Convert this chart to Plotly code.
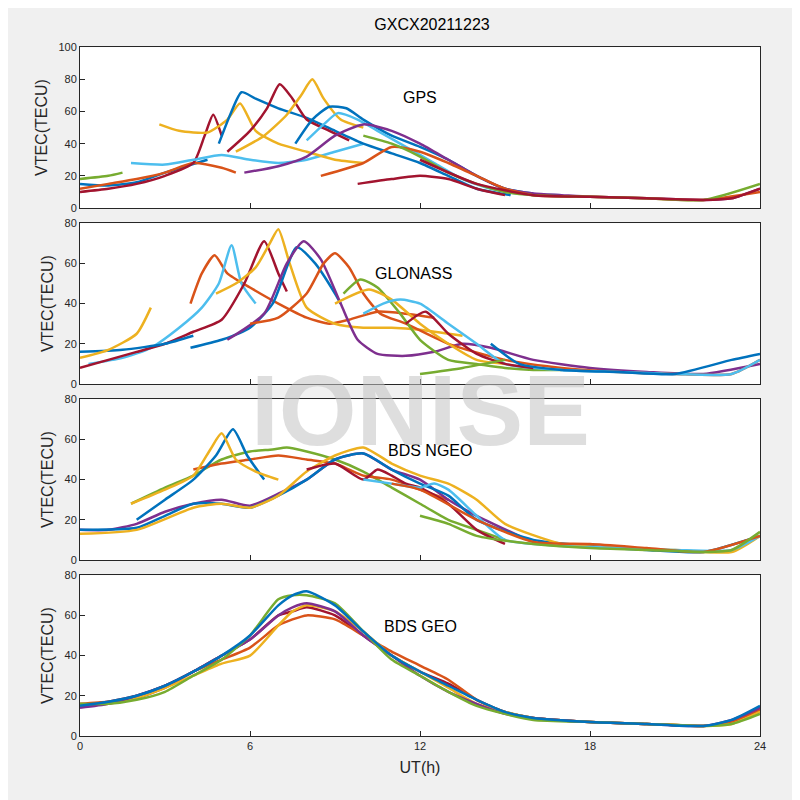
import plotly.graph_objects as go

C = ['#0072BD', '#D95319', '#EDB120', '#7E2F8E', '#77AC30', '#4DBEEE', '#A2142F']

# GPS arcs: (color, hours, vtec)
gps_arcs = [
    (0, [0, 1, 2, 3, 4.5], [15, 14, 16, 22, 30]),
    (1, [0, 1, 2, 3, 4, 5, 5.5], [12, 15, 18, 22, 28, 25, 22]),
    (4, [0, 1, 1.5], [18, 20, 22]),
    (6, [0, 1, 2, 3, 4, 4.4, 4.7, 5.0], [10, 12, 15, 20, 28, 45, 58, 45]),
    (5, [1.8, 3, 4, 5, 6, 7, 8, 9, 10], [28, 27, 30, 33, 30, 28, 30, 35, 40]),
    (2, [2.8, 3.5, 4.5, 5.2, 5.65, 6.2, 7, 8, 9, 10], [52, 48, 47, 55, 65, 48, 40, 35, 30, 28]),
    (0, [4.9, 5.3, 5.7, 6.2, 7, 8, 9, 10, 11, 12, 13, 14, 15.2], [40, 58, 72, 68, 62, 56, 48, 40, 34, 28, 20, 12, 8]),
    (6, [5.2, 6, 6.6, 7.05, 7.5, 8, 8.8, 9.5], [35, 48, 62, 77, 68, 55, 48, 42]),
    (2, [5.5, 6.5, 7.3, 7.8, 8.2, 8.6, 9.2, 10], [35, 45, 58, 70, 80, 68, 55, 50]),
    (0, [7.6, 8.2, 8.8, 9.4, 10, 11, 12, 13, 14, 15, 16], [40, 55, 63, 62, 55, 45, 38, 30, 20, 12, 9]),
    (5, [8, 8.6, 9.1, 9.8, 10.5, 11.5, 12.5, 13.5, 14.5, 15.5, 17], [42, 52, 59, 55, 48, 38, 28, 18, 12, 9, 8]),
    (3, [5.8, 7, 8, 9, 10, 11, 12, 13, 14, 15, 16, 17, 18, 20, 22, 23, 24], [22, 26, 32, 45, 52, 48, 40, 30, 20, 12, 9, 8, 7, 6, 5, 6, 12]),
    (1, [8.5, 10, 11, 12, 13, 14, 15, 16, 18, 20, 22, 24], [20, 28, 38, 35, 28, 20, 12, 8, 7, 6, 5, 10]),
    (6, [9.8, 11, 12, 13, 14, 15], [15, 18, 20, 18, 12, 8]),
    (4, [10, 11, 12, 13, 14, 15, 16, 18, 20, 22, 24], [45, 40, 32, 22, 15, 10, 8, 7, 6, 5, 15]),
    (6, [12, 14, 16, 18, 20, 22, 23, 24], [30, 15, 8, 7, 6, 5, 6, 12]),
]

glonass_arcs = [
    (1, [3.9, 4.3, 4.75, 5.2, 6, 7, 8, 8.8, 9.5, 10.5, 11.5, 12.5], [40, 55, 64, 55, 48, 40, 33, 30, 32, 36, 35, 33]),
    (5, [0.3, 1.5, 2.5, 3.5, 4.3, 4.9, 5.35, 5.7, 6.2], [10, 13, 18, 28, 38, 50, 69, 50, 40]),
    (6, [0, 1, 2, 3, 4, 5, 5.8, 6.5, 7, 7.3], [8, 12, 16, 20, 26, 32, 50, 71, 55, 46]),
    (2, [4.8, 5.5, 6.2, 6.7, 7.0, 7.4, 8, 9, 10, 11, 12, 13.5], [45, 50, 58, 70, 77, 60, 38, 30, 28, 28, 27, 24]),
    (0, [3.9, 5, 6, 6.8, 7.65, 8.3, 9, 9.2], [18, 22, 28, 40, 68, 60, 45, 40]),
    (3, [5.2, 6.5, 7.3, 7.9, 8.5, 9.2, 9.8, 10.5, 11.5, 12.5, 13.5, 14.5, 16, 18, 20, 22, 24], [22, 35, 60, 71, 62, 40, 22, 15, 14, 16, 20, 18, 12, 8, 6, 5, 10]),
    (1, [6, 7, 8, 8.6, 9.0, 9.5, 10, 10.6, 11.5, 13, 15, 17, 19, 21, 23, 24], [30, 33, 45, 60, 65, 58, 45, 35, 30, 20, 12, 8, 6, 5, 5, 12]),
    (4, [9.3, 9.9, 10.5, 11.3, 12, 13, 14, 15, 16, 17], [45, 52, 48, 35, 22, 12, 10, 8, 7, 7]),
    (2, [9, 10.2, 11, 12, 13, 14, 15], [40, 47, 42, 30, 20, 12, 10]),
    (5, [10, 10.7, 11.3, 12, 13, 14, 15, 17, 19, 21, 23, 24], [35, 40, 42, 40, 30, 20, 10, 7, 6, 5, 5, 12]),
    (6, [11.5, 12.2, 13, 14, 15, 16], [30, 36, 25, 15, 10, 8]),
    (0, [0, 1.5, 3, 4], [16, 17, 20, 24]),
    (2, [0, 1, 2, 2.5], [13, 17, 25, 38]),
    (0, [14.5, 15.5, 17, 19, 21, 23, 24], [20, 10, 7, 6, 5, 12, 15]),
    (4, [12, 13.5, 15], [5, 8, 12]),
]

ngeo_arcs = [
    (4, [1.8, 3, 4, 5, 6, 6.8, 7.3, 8, 9, 10, 11, 12, 13, 14, 15], [28, 36, 42, 50, 54, 55, 56, 54, 50, 44, 36, 28, 20, 15, 10]),
    (1, [4, 5, 6, 7, 8, 9, 9.5, 10, 11, 12, 13], [45, 48, 50, 52, 50, 48, 45, 42, 40, 35, 30]),
    (3, [0, 1, 2, 3, 4, 5, 6, 7, 8, 9, 10, 11, 12, 13, 14, 15.5], [15, 15, 18, 24, 28, 30, 27, 33, 40, 50, 53, 45, 40, 30, 22, 12]),
    (0, [0, 2, 3, 4, 5, 6, 7, 8, 9, 10, 11, 12, 13, 14, 16, 18, 20, 22, 24], [15, 16, 22, 28, 28, 26, 32, 40, 50, 53, 45, 38, 32, 20, 10, 7, 5, 4, 12]),
    (2, [0, 2, 4, 5, 6, 7, 8, 9, 10, 11, 12, 13, 14, 15, 17, 19, 21, 23, 24], [13, 15, 26, 28, 26, 32, 44, 52, 56, 48, 42, 38, 30, 18, 8, 6, 5, 4, 12]),
    (6, [8, 9, 10, 10.5, 11, 11.5, 12, 13, 14, 15], [45, 48, 40, 45, 42, 38, 36, 28, 15, 8]),
    (5, [10, 11, 12, 12.5, 13, 14, 15, 17, 19, 21, 23, 24], [40, 38, 36, 38, 35, 22, 10, 7, 6, 5, 5, 12]),
    (1, [11, 12, 14, 16, 18, 20, 22, 24], [38, 35, 20, 9, 8, 6, 4, 12]),
    (4, [12, 13, 14, 16, 18, 20, 22, 23, 24], [22, 18, 12, 8, 6, 5, 4, 5, 14]),
    (0, [2.0, 3, 4, 4.8, 5.4, 5.9, 6.5], [20, 30, 40, 52, 65, 52, 40]),
    (2, [1.8, 3, 4, 4.6, 5.0, 5.5, 6.2, 7], [28, 35, 42, 55, 63, 50, 44, 40]),
]

geo_hours = [0, 1, 2, 3, 4, 5, 6, 7, 7.5, 8, 9, 10, 11, 12, 13, 14, 15, 16, 18, 20, 22, 23, 24]
geo_blue = [15, 17, 20, 25, 32, 40, 50, 65, 70, 72, 65, 52, 40, 32, 25, 18, 12, 9, 7, 6, 5, 8, 15]
geo_orange = [16, 17, 19, 24, 32, 38, 44, 55, 58, 60, 58, 50, 42, 35, 28, 18, 12, 9, 7, 6, 5, 7, 13]
geo_yellow = [15, 16, 19, 24, 30, 36, 40, 55, 62, 65, 62, 52, 40, 32, 24, 16, 12, 9, 7, 6, 5, 6, 12]
geo_purple = [14, 16, 20, 25, 32, 40, 48, 60, 64, 66, 62, 50, 40, 30, 22, 16, 11, 9, 7, 6, 5, 8, 14]
geo_green = [16, 16, 18, 22, 30, 38, 50, 68, 70, 70, 66, 52, 38, 30, 22, 15, 11, 8, 7, 6, 5, 6, 11]
geo_red = [15, 17, 20, 25, 32, 40, 48, 60, 62, 64, 60, 50, 40, 32, 26, 18, 12, 9, 7, 6, 5, 7, 14]
geo_arcs = [(6, geo_hours, geo_red), (1, geo_hours, geo_orange), (2, geo_hours, geo_yellow),
            (3, geo_hours, geo_purple), (4, geo_hours, geo_green), (0, geo_hours, geo_blue)]

panels = [
    ('GPS', gps_arcs, 100, [0.75, 0.951]),
    ('GLONASS', glonass_arcs, 80, [0.53, 0.731]),
    ('BDS NGEO', ngeo_arcs, 80, [0.31, 0.511]),
    ('BDS GEO', geo_arcs, 80, [0.09, 0.291]),
]
label_pos = [(0.50, 0.69), (0.49, 0.69), (0.515, 0.68), (0.50, 0.68)]

fig = go.Figure()
for i, (name, arcs, ymax, dom) in enumerate(panels):
    ax = '' if i == 0 else str(i + 1)
    for c, h, v in arcs:
        fig.add_trace(go.Scatter(x=h, y=v, mode='lines', line=dict(color=C[c], width=2.5, shape='spline', smoothing=0.6),
                                 xaxis='x' + ax, yaxis='y' + ax, showlegend=False))
    axstyle = dict(showline=True, mirror=True, linecolor='#262626', ticks='inside', ticklen=5,
                   tickcolor='#262626', showgrid=False, zeroline=False, automargin=False,
                   tickfont=dict(size=11, color='#262626'))
    fig.layout['xaxis' + ax] = dict(axstyle, domain=[0.09, 0.94], range=[0, 24], tickvals=[0, 6, 12, 18, 24],
                                    showticklabels=(i == 3), anchor='y' + ax,
                                    title=dict(text='UT(h)', font=dict(size=16), standoff=10) if i == 3 else None)
    fig.layout['yaxis' + ax] = dict(axstyle, domain=dom, range=[0, ymax], dtick=20, anchor='x' + ax,
                                    title=dict(text='VTEC(TECU)', font=dict(size=16), standoff=6))
    fig.add_annotation(text=name, x=label_pos[i][0], y=label_pos[i][1], xref='x' + ax + ' domain',
                       yref='y' + ax + ' domain', showarrow=False, font=dict(size=16, color='black'),
                       xanchor='center', yanchor='middle')

fig.add_annotation(text='<b>IONISE</b>', x=0.515, y=0.498, xref='paper', yref='paper', showarrow=False,
                   font=dict(size=100, color='rgba(195,195,195,0.55)', family='Liberation Sans'))
fig.update_layout(
    width=800, height=800, margin=dict(l=0, r=0, t=0, b=0),
    paper_bgcolor='#f0f0f0', plot_bgcolor='white',
    font=dict(family='Liberation Sans', color='#262626'),
    title=dict(text='GXCX20211223', x=0.53, y=0.979, xanchor='center', yanchor='middle',
               font=dict(size=16, color='black')),
)
fig.write_html('out.html')
